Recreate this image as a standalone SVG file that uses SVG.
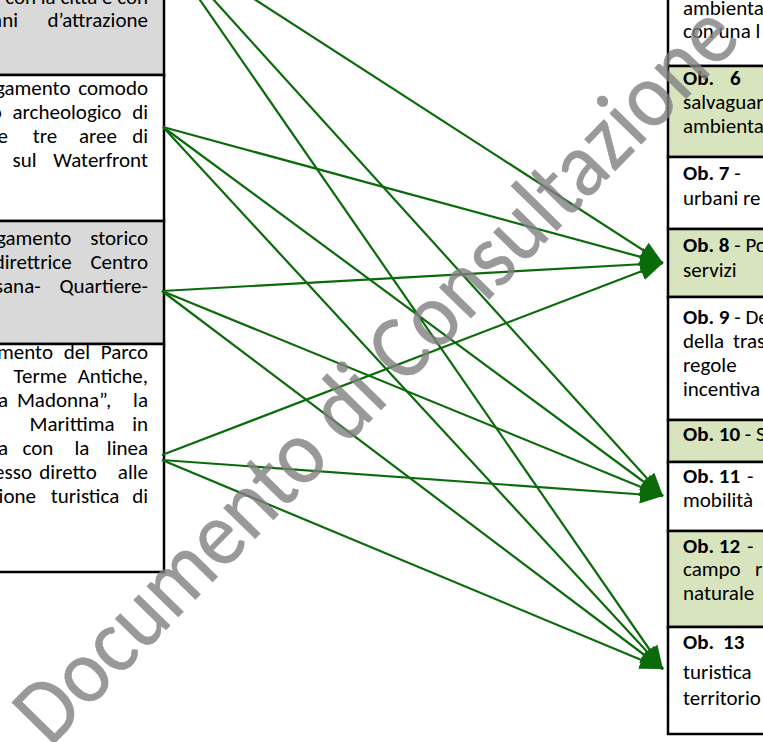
<svg xmlns="http://www.w3.org/2000/svg" width="763" height="742" viewBox="0 0 763 742">
  <style>
    .txt { font-family: Carlito, Lato, "Open Sans", sans-serif; font-size: 21px; fill: #000; }
    .b { font-weight: bold; }
    .end { text-anchor: end; }
    .mid { text-anchor: middle; }
    .cell { stroke: #000; stroke-width: 2.5; }
    .grey { fill: #d9d9d9; }
    .white { fill: #ffffff; }
    .green { fill: #d7e4bd; }
    .arrow { stroke: #0b6b0b; stroke-width: 2.2; fill: none; marker-end: url(#head); }
    .wm { font-family: Carlito, Lato, "Open Sans", sans-serif; font-size: 92px; fill: #808080; stroke: #808080; stroke-width: 0.6; }
  </style>
  <defs>
    <marker id="head" viewBox="0 0 10 8" refX="10" refY="4" markerWidth="10.5" markerHeight="8.4" orient="auto" markerUnits="strokeWidth">
      <path d="M0,0 L10,4 L0,8 z" fill="#0b6b0b"/>
    </marker>
  </defs>

  <rect width="763" height="742" fill="#ffffff"/>

  <!-- left column: strategic actions -->
  <g id="az-1">
    <rect class="cell grey" x="-10" y="-10" width="174" height="85"/>
    <text class="txt end" x="148" y="4">con la città e con</text>
    <text class="txt end" x="18" y="27">ani</text>
    <text class="txt end" x="148" y="27">d’attrazione</text>
  </g>
  <g id="az-2">
    <rect class="cell white" x="-10" y="75" width="174" height="146"/>
    <text class="txt end" x="148" y="95" word-spacing="3">gamento comodo</text>
    <text class="txt end" x="148" y="119" word-spacing="6">o archeologico di</text>
    <text class="txt end" x="8" y="143">e</text>
    <text class="txt mid" x="45" y="143">tre</text>
    <text class="txt mid" x="98" y="143">aree</text>
    <text class="txt end" x="148" y="143">di</text>
    <text class="txt end" x="148" y="167" word-spacing="12">sul Waterfront</text>
  </g>
  <g id="az-3">
    <rect class="cell grey" x="-10" y="221" width="174" height="123"/>
    <text class="txt end" x="148" y="245" word-spacing="14">gamento storico</text>
    <text class="txt end" x="148" y="269" word-spacing="14">direttrice Centro</text>
    <text class="txt end" x="148" y="293" word-spacing="14">sana- Quartiere-</text>
  </g>
  <g id="az-4">
    <rect class="cell white" x="-10" y="344" width="174" height="228"/>
    <text class="txt end" x="148" y="359" word-spacing="6">mento del Parco</text>
    <text class="txt end" x="148" y="383" word-spacing="6">Terme Antiche,</text>
    <text class="txt end" x="8" y="407">a</text>
    <text class="txt mid" x="64" y="407">Madonna”,</text>
    <text class="txt end" x="148" y="407">la</text>
    <text class="txt mid" x="72" y="431">Marittima</text>
    <text class="txt end" x="148" y="431">in</text>
    <text class="txt end" x="8" y="455">a</text>
    <text class="txt mid" x="38" y="455">con</text>
    <text class="txt mid" x="82" y="455">la</text>
    <text class="txt end" x="148" y="455">linea</text>
    <text class="txt end" x="32" y="479">esso</text>
    <text class="txt mid" x="68" y="479">diretto</text>
    <text class="txt end" x="148" y="479">alle</text>
    <text class="txt end" x="36" y="503">zione</text>
    <text class="txt mid" x="85" y="503">turistica</text>
    <text class="txt end" x="148" y="503">di</text>
  </g>

  <!-- right column: plan objectives -->
  <g id="ob-5">
    <rect class="cell white" x="668" y="-10" width="110" height="76"/>
    <text class="txt" x="683" y="15">ambienta</text>
    <text class="txt" x="683" y="38">con una l</text>
  </g>
  <g id="ob-6">
    <rect class="cell green" x="668" y="66" width="110" height="91"/>
    <text class="txt b" x="683" y="85">Ob.</text>
    <text class="txt b" x="730" y="85">6</text>
    <text class="txt" x="683" y="109">salvaguar</text>
    <text class="txt" x="683" y="133">ambienta</text>
  </g>
  <g id="ob-7">
    <rect class="cell white" x="668" y="157" width="110" height="72"/>
    <text class="txt" x="683" y="180"><tspan class="b">Ob. 7</tspan> -</text>
    <text class="txt" x="683" y="205">urbani re</text>
  </g>
  <g id="ob-8">
    <rect class="cell green" x="668" y="229" width="110" height="68"/>
    <text class="txt" x="683" y="252"><tspan class="b">Ob. 8</tspan> - Po</text>
    <text class="txt" x="683" y="277">servizi</text>
  </g>
  <g id="ob-9">
    <rect class="cell white" x="668" y="297" width="110" height="123"/>
    <text class="txt" x="683" y="324"><tspan class="b">Ob. 9</tspan> - De</text>
    <text class="txt" x="683" y="348">della</text>
    <text class="txt" x="733" y="348">tras</text>
    <text class="txt" x="683" y="372">regole</text>
    <text class="txt" x="683" y="396">incentiva</text>
  </g>
  <g id="ob-10">
    <rect class="cell green" x="668" y="420" width="110" height="42"/>
    <text class="txt" x="683" y="441"><tspan class="b">Ob. 10</tspan> - S</text>
  </g>
  <g id="ob-11">
    <rect class="cell white" x="668" y="462" width="110" height="69"/>
    <text class="txt b" x="683" y="483">Ob. 11</text>
    <text class="txt" x="747" y="483">-</text>
    <text class="txt" x="683" y="507">mobilità</text>
  </g>
  <g id="ob-12">
    <rect class="cell green" x="668" y="531" width="110" height="96"/>
    <text class="txt b" x="683" y="553">Ob. 12</text>
    <text class="txt" x="747" y="553">-</text>
    <text class="txt" x="683" y="576">campo</text>
    <text class="txt" x="755" y="576">r</text>
    <text class="txt" x="683" y="600">naturale</text>
  </g>
  <g id="ob-13">
    <rect class="cell white" x="668" y="627" width="110" height="107"/>
    <text class="txt b" x="683" y="649">Ob.</text>
    <text class="txt b" x="723" y="649">13</text>
    <text class="txt" x="683" y="679">turistica</text>
    <text class="txt" x="683" y="705">territorio</text>
  </g>

  <!-- connectors: each action points to the objectives it serves -->
  <g id="connectors">
    <line class="arrow" x1="155" y1="-65" x2="663" y2="263"/>
    <line class="arrow" x1="155" y1="-65" x2="663" y2="496"/>
    <line class="arrow" x1="155" y1="-65" x2="663" y2="669"/>
    <line class="arrow" x1="163" y1="127" x2="663" y2="263"/>
    <line class="arrow" x1="163" y1="127" x2="663" y2="496"/>
    <line class="arrow" x1="163" y1="127" x2="663" y2="669"/>
    <line class="arrow" x1="162" y1="291" x2="663" y2="263"/>
    <line class="arrow" x1="162" y1="291" x2="663" y2="496"/>
    <line class="arrow" x1="162" y1="291" x2="663" y2="669"/>
    <line class="arrow" x1="162" y1="455" x2="663" y2="263"/>
    <line class="arrow" x1="162" y1="460" x2="663" y2="496"/>
    <line class="arrow" x1="162" y1="460" x2="663" y2="669"/>
  </g>

  <!-- draft watermark across the sheet -->
  <g id="watermark" opacity="0.8">
    <text class="wm" x="50" y="748" textLength="990" lengthAdjust="spacingAndGlyphs" transform="rotate(-45.6 50 748)">Documento di Consultazione</text>
  </g>
</svg>
